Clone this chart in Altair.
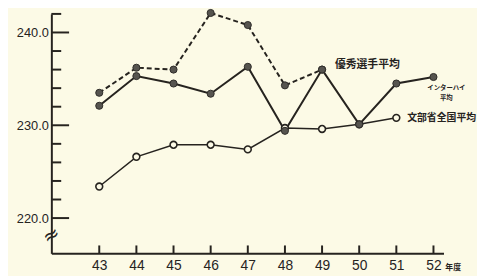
import altair as alt
import pandas as pd

# ---- data ----
years = [43, 44, 45, 46, 47, 48, 49, 50, 51, 52]
inter_avg = [232.1, 235.3, 234.5, 233.4, 236.3, 229.4, 236.0, 230.1, 234.5, 235.2]   # インターハイ平均
elite_years = [43, 44, 45, 46, 47, 48, 49]
elite_avg = [233.5, 236.2, 236.0, 242.1, 240.8, 234.3, 236.0]                      # 優秀選手平均
mext_years = [43, 44, 45, 46, 47, 48, 49, 50, 51]
mext_avg = [223.4, 226.6, 227.9, 227.9, 227.4, 229.7, 229.6, 230.1, 230.8]         # 文部省全国平均
y_major = [220, 230, 240]
y_minor = [222, 224, 226, 228, 232, 234, 236, 238, 242]

BG = "#fcfae6"
INK = "#26231f"
DOT = "#56544f"
W, H = 398, 243

df_inter = pd.DataFrame({"year": years, "v": inter_avg})
df_elite = pd.DataFrame({"year": elite_years, "v": elite_avg})
df_mext = pd.DataFrame({"year": mext_years, "v": mext_avg})
df_major = pd.DataFrame({"v": y_major})
df_minor = pd.DataFrame({"v": y_minor})
df_years = pd.DataFrame({"year": years})

xs = alt.Scale(domain=[41.71, 52.27], nice=False, zero=False)
ys = alt.Scale(domain=[216.2, 242.0], nice=False, zero=False)

X = alt.X("year:Q", scale=xs, axis=alt.Axis(values=years, format="d", ticks=False, tickSize=0,
                                              grid=False, title=None, labelFontSize=14,
                                              labelFont="Liberation Sans", labelColor=INK,
                                              labelPadding=5, domainWidth=2, domainColor=INK))
Y = alt.Y("v:Q", scale=ys, axis=alt.Axis(values=y_major, format=".1f", ticks=False, tickSize=0,
                                         grid=False, title=None, labelFontSize=13,
                                         labelFont="Liberation Sans", labelColor=INK,
                                         labelPadding=3, domainWidth=2, domainColor=INK))

# axis decorations
major_ticks = alt.Chart(df_major).mark_rule(color=INK, strokeWidth=2).encode(
    y=alt.Y("v:Q", scale=ys), x=alt.value(0), x2=alt.value(18))
minor_ticks = alt.Chart(df_minor).mark_rule(color=INK, strokeWidth=2).encode(
    y=alt.Y("v:Q", scale=ys), x=alt.value(0), x2=alt.value(10))
x_ticks = alt.Chart(df_years).mark_rule(color=INK, strokeWidth=2).encode(
    x=alt.X("year:Q", scale=xs), y=alt.value(H), y2=alt.value(H - 8))
brk = alt.Chart(df_years.head(1)).mark_text(text="≈", fontSize=20, angle=330, color=INK,
                                             font="DejaVu Sans").encode(
    x=alt.value(0), y=alt.value(H - 18))

# series
mext_line = alt.Chart(df_mext).mark_line(color=INK, strokeWidth=1.5).encode(x=X, y=Y)
mext_pts = alt.Chart(df_mext).mark_point(shape="circle", filled=True, fill=BG, stroke=INK,
                                         strokeWidth=1.6, size=48, opacity=1).encode(x=X, y=Y)
inter_line = alt.Chart(df_inter).mark_line(color=INK, strokeWidth=2).encode(x=X, y=Y)
elite_line = alt.Chart(df_elite).mark_line(color=INK, strokeWidth=2, strokeDash=[5, 3]).encode(x=X, y=Y)
inter_pts = alt.Chart(df_inter).mark_point(shape="circle", filled=True, fill=DOT, stroke="#2e2c29",
                                           strokeWidth=1, size=52, opacity=1).encode(x=X, y=Y)
elite_pts = alt.Chart(df_elite).mark_point(shape="circle", filled=True, fill=DOT, stroke="#2e2c29",
                                           strokeWidth=1, size=52, opacity=1).encode(x=X, y=Y)

JP = "Noto Sans CJK JP"
lab_elite = alt.Chart(df_years.head(1)).mark_text(
    text="優秀選手平均", font=JP, fontSize=11, fontWeight="bold", color=INK, align="left",
    dx=13, dy=-5).encode(x=alt.datum(elite_years[-1]), y=alt.datum(elite_avg[-1]))
lab_inter = alt.Chart(df_years.head(1)).mark_text(
    text=["インターハイ", "平均"], font=JP, fontSize=6.5, fontWeight="bold", color=INK, align="center",
    baseline="top", dx=13, dy=8, lineHeight=10).encode(x=alt.datum(years[-1]), y=alt.datum(inter_avg[-1]))
lab_mext = alt.Chart(df_years.head(1)).mark_text(
    text="文部省全国平均", font=JP, fontSize=10, fontWeight="bold", color=INK, align="left",
    dx=11, dy=0).encode(x=alt.datum(mext_years[-1]), y=alt.datum(mext_avg[-1]))
lab_year = alt.Chart(df_years.head(1)).mark_text(
    text="年度", font=JP, fontSize=8, fontWeight="bold", color=INK, align="left",
    dx=12, baseline="middle").encode(x=alt.datum(years[-1]), y=alt.value(H + 15))

chart = alt.layer(
    major_ticks, minor_ticks, x_ticks, brk,
    mext_line, inter_line, elite_line, mext_pts, inter_pts, elite_pts,
    lab_elite, lab_inter, lab_mext, lab_year,
).properties(
    width=W, height=H,
    autosize=alt.AutoSizeParams(type="none"),
    padding={"left": 44, "top": 4, "right": 34, "bottom": 21},
    background=BG,
).configure_view(stroke=None)

chart.save("out.html", embed_options={"renderer": "svg", "actions": False})
